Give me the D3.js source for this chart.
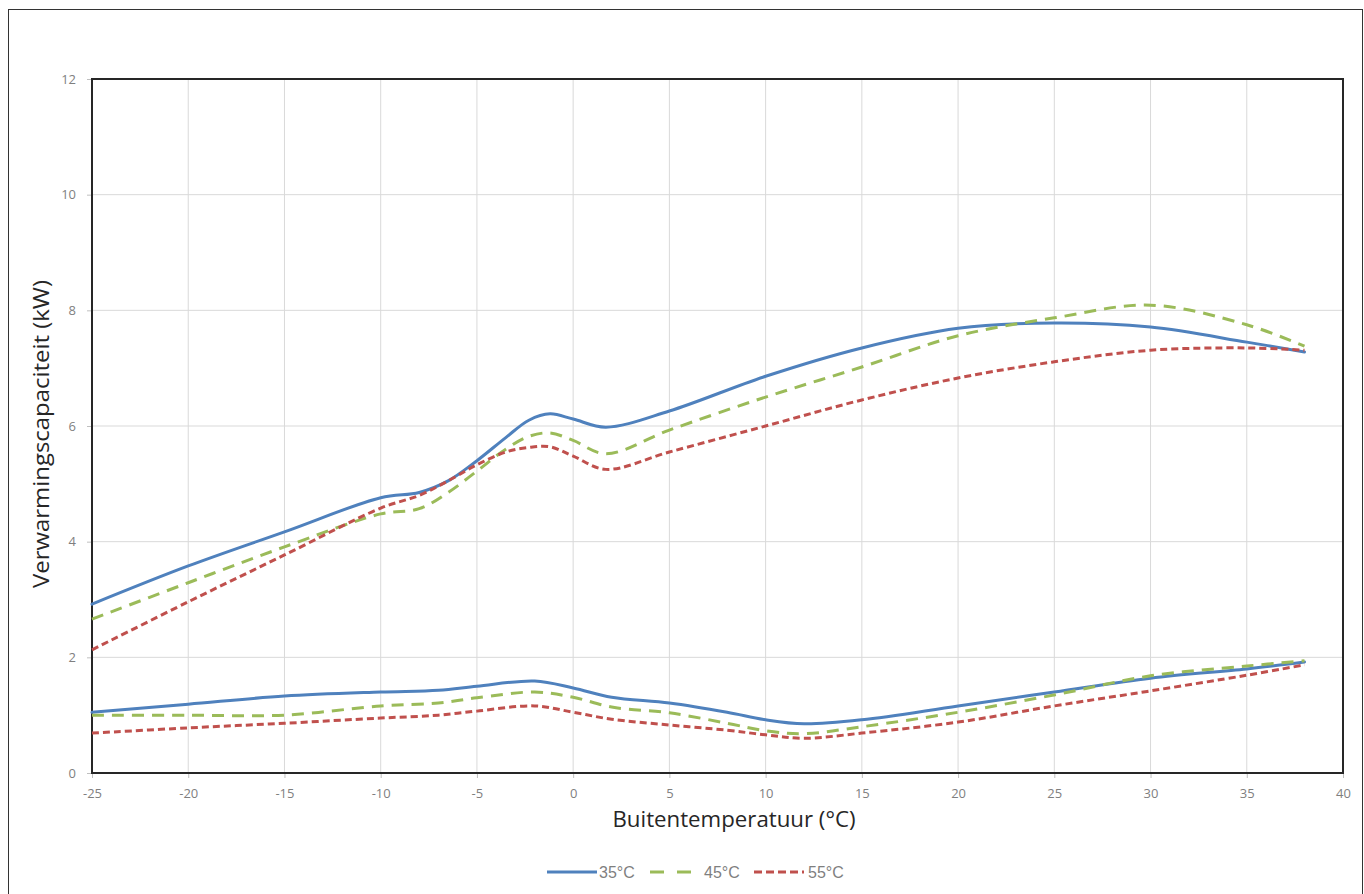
<!DOCTYPE html>
<html><head><meta charset="utf-8">
<script src="https://cdn.jsdelivr.net/npm/d3@7"></script>
<style>body{margin:0;background:#fff;}svg{display:block;font-family:"Open Sans",Roboto,sans-serif;}</style>
</head><body><svg id="c" width="1364" height="894"></svg>
<script>
const xTicks = [-25,-20,-15,-10,-5,0,5,10,15,20,25,30,35,40];
const yTicks = [0,2,4,6,8,10,12];
const seriesNames = ["35°C","45°C","55°C"];
const colors = ["#4F81BD","#9BBB59","#C0504D"];
const dashes = [null,"12,8","7,4"];

const xMax = [-25,-20,-15,-10,-8,-6.5,-5,-3.5,-2.3,-1.2,0,1.7,5,10,15,20,25,30,35,38];
const blueMax  = [2.92,3.58,4.17,4.76,4.85,5.05,5.4,5.8,6.1,6.21,6.12,5.98,6.26,6.86,7.35,7.69,7.78,7.71,7.45,7.28];
const greenMax = [2.66,3.29,3.91,4.48,4.57,4.85,5.22,5.6,5.82,5.88,5.75,5.52,5.93,6.5,7.02,7.56,7.87,8.09,7.75,7.38];
const redMax   = [2.13,2.96,3.77,4.58,4.8,5.05,5.33,5.55,5.63,5.64,5.48,5.25,5.55,6.0,6.45,6.83,7.11,7.31,7.35,7.31];

const xMin = [-25,-20,-15,-10,-7,-5,-2,0,2,5,8,10,12,15,20,25,30,35,38];
const blueMin  = [1.05,1.19,1.33,1.40,1.43,1.50,1.59,1.47,1.31,1.21,1.05,0.92,0.85,0.92,1.16,1.40,1.64,1.80,1.92];
const greenMin = [1.00,1.00,1.00,1.16,1.21,1.30,1.40,1.31,1.14,1.04,0.86,0.73,0.68,0.80,1.05,1.35,1.68,1.85,1.94];
const redMin   = [0.69,0.78,0.86,0.95,1.00,1.07,1.16,1.05,0.93,0.83,0.74,0.66,0.60,0.69,0.88,1.16,1.42,1.69,1.87];

const svg = d3.select("#c");
const L=92, R=1343, T=79, B=773;
const x = d3.scaleLinear().domain([-25,40]).range([L,R]);
const y = d3.scaleLinear().domain([0,12]).range([B,T]);

svg.append("rect").attr("x",8.5).attr("y",9.5).attr("width",1354).attr("height",900)
  .attr("fill","#fff").attr("stroke","#333").attr("stroke-width",1);

// grid
svg.append("g").selectAll("line").data(xTicks.slice(1,-1)).join("line")
  .attr("x1",d=>x(d)).attr("x2",d=>x(d)).attr("y1",T).attr("y2",B)
  .attr("stroke","#d9d9d9").attr("stroke-width",1);
svg.append("g").selectAll("line").data(yTicks.slice(1,-1)).join("line")
  .attr("y1",d=>y(d)).attr("y2",d=>y(d)).attr("x1",L).attr("x2",R)
  .attr("stroke","#d9d9d9").attr("stroke-width",1);

// axes
const xAxis = d3.axisBottom(x).tickValues(xTicks).tickSize(5).tickPadding(11).tickFormat(d=>d);
const gx = svg.append("g").attr("transform",`translate(0,${B})`).call(xAxis);
gx.select(".domain").remove();
gx.selectAll(".tick line").attr("stroke","#bfbfbf");
gx.selectAll("text").attr("fill","#7f7f7f").style("font-size","13px").style("font-family","'Open Sans', sans-serif");

const yAxis = d3.axisLeft(y).tickValues(yTicks).tickSize(5).tickPadding(11);
const gy = svg.append("g").attr("transform",`translate(${L},0)`).call(yAxis);
gy.select(".domain").remove();
gy.selectAll(".tick line").attr("stroke","#bfbfbf");
gy.selectAll("text").attr("fill","#7f7f7f").style("font-size","13px").style("font-family","'Open Sans', sans-serif");

// plot border
svg.append("rect").attr("x",L).attr("y",T).attr("width",R-L).attr("height",B-T)
  .attr("fill","none").attr("stroke","#262626").attr("stroke-width",2);

const line = d3.line().x(d=>x(d[0])).y(d=>y(d[1])).curve(d3.curveCatmullRom.alpha(0.5));
const sets = [
  [xMax,blueMax,0],[xMin,blueMin,0],
  [xMax,greenMax,1],[xMin,greenMin,1],
  [xMax,redMax,2],[xMin,redMin,2]
];
sets.forEach(([xs,ys,i])=>{
  const data = xs.map((v,k)=>[v,ys[k]]);
  svg.append("path").datum(data).attr("d",line).attr("fill","none")
    .attr("stroke",colors[i]).attr("stroke-width",3)
    .attr("stroke-dasharray",dashes[i]).attr("stroke-linecap",i===0?"round":"butt");
});

// axis titles
svg.append("text").attr("x",734).attr("y",827).attr("text-anchor","middle")
  .attr("fill","#262626").style("font-size","22px")
  .attr("textLength",243).attr("lengthAdjust","spacingAndGlyphs").text("Buitentemperatuur (°C)");
svg.append("text").attr("transform",`translate(49,434) rotate(-90)`).attr("text-anchor","middle")
  .attr("fill","#262626").style("font-size","22px")
  .attr("textLength",308).attr("lengthAdjust","spacingAndGlyphs").text("Verwarmingscapaciteit (kW)");

// legend
const legX = [547,650,754];
const legW = [50,41,50];
const legTextX = [599,704,808];
const legDash = [null,"14,13","8,4"];
seriesNames.forEach((n,i)=>{
  svg.append("line").attr("x1",legX[i]).attr("x2",legX[i]+legW[i]).attr("y1",872).attr("y2",872)
    .attr("stroke",colors[i]).attr("stroke-width",3).attr("stroke-dasharray",legDash[i]);
  svg.append("text").attr("x",legTextX[i]).attr("y",878).attr("fill","#7f7f7f")
    .style("font-size","16px").style("font-family","Liberation Sans, Arial, sans-serif").text(n);
});
</script></body></html>
